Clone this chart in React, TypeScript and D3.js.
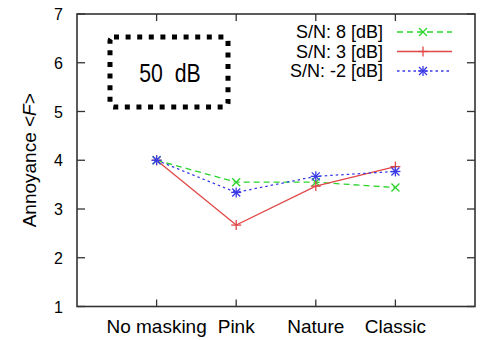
import React from 'react'
import * as d3 from 'd3'

const categories = ['No masking', 'Pink', 'Nature', 'Classic']
const yTicks = [1, 2, 3, 4, 5, 6, 7]

const snr8 = [4.0, 3.55, 3.55, 3.44]
const snr3 = [4.0, 2.67, 3.47, 3.87]
const snrM2 = [4.0, 3.34, 3.67, 3.77]

const seriesNames = ['S/N: 8 [dB]', 'S/N: 3 [dB]', 'S/N: -2 [dB]']

const W = 488
const H = 340
const left = 77
const right = 475
const top = 14
const bottom = 306.5

const FONT = 'Liberation Sans, Arial, Helvetica, sans-serif'

// marker shapes
const Marker = ({ kind, x, y, color }) => {
    const s = 4
    const cross = (
        <g key='c'>
            <line x1={x - s} y1={y - s} x2={x + s} y2={y + s} />
            <line x1={x - s} y1={y + s} x2={x + s} y2={y - s} />
        </g>
    )
    const plus = (
        <g key='p'>
            <line x1={x - s - 1} y1={y} x2={x + s + 1} y2={y} />
            <line x1={x} y1={y - s - 1} x2={x} y2={y + s + 1} />
        </g>
    )
    return (
        <g stroke={color} strokeWidth={1.3} fill='none'>
            {kind === 'x' && cross}
            {kind === '+' && plus}
            {kind === '*' && [cross, plus]}
        </g>
    )
}

const App = () => {
    const x = d3.scaleLinear().domain([0, 5]).range([left, right])
    const y = d3.scaleLinear().domain([1, 7]).range([bottom, top])

    const series = [
        { name: seriesNames[0], values: snr8, color: '#2ed42e', dash: '6 4', marker: 'x' },
        { name: seriesNames[1], values: snr3, color: '#e04848', dash: null, marker: '+' },
        { name: seriesNames[2], values: snrM2, color: '#3a3ae8', dash: '2.5 3', marker: '*' },
    ]

    const line = d3
        .line<number>()
        .x((d, i) => x(i + 1))
        .y(d => y(d))

    const frame = '#333'

    return (
        <svg width={W} height={H} style={{ position: 'absolute', left: 0, top: 0 }}>
            <rect width={W} height={H} fill='white' />

            {/* ticks, inward on all sides */}
            <g stroke={frame} strokeWidth={1.3}>
                {yTicks.map(t => (
                    <g key={t}>
                        <line x1={left} x2={left + 8} y1={y(t)} y2={y(t)} />
                        <line x1={right} x2={right - 8} y1={y(t)} y2={y(t)} />
                    </g>
                ))}
                {categories.map((c, i) => (
                    <g key={c}>
                        <line x1={x(i + 1)} x2={x(i + 1)} y1={bottom} y2={bottom - 7} />
                        <line x1={x(i + 1)} x2={x(i + 1)} y1={top} y2={top + 7} />
                    </g>
                ))}
            </g>

            {/* 50 dB box */}
            <rect
                x={110}
                y={37}
                width={118}
                height={70}
                rx={4}
                fill='none'
                stroke='black'
                strokeWidth={5}
                strokeDasharray='5 6.6'
            />
            <text
                transform='translate(170, 82) scale(0.85, 1)'
                textAnchor='middle'
                fontFamily={FONT}
                fontSize={25}
                fill='black'
                style={{ whiteSpace: 'pre' }}
            >
                {'50  dB'}
            </text>

            {/* series */}
            {series.map(s => (
                <g key={s.name}>
                    <path
                        d={line(s.values)}
                        fill='none'
                        stroke={s.color}
                        strokeWidth={1.3}
                        strokeDasharray={s.dash || undefined}
                    />
                    {s.values.map((v, i) => (
                        <Marker key={i} kind={s.marker} x={x(i + 1)} y={y(v)} color={s.color} />
                    ))}
                </g>
            ))}

            {/* legend */}
            {series.map((s, i) => {
                const ly = 32 + i * 19.5
                return (
                    <g key={s.name}>
                        <text
                            x={383}
                            y={ly + 6}
                            textAnchor='end'
                            fontFamily={FONT}
                            fontSize={18}
                            fill='black'
                        >
                            {s.name}
                        </text>
                        <line
                            x1={397}
                            x2={452}
                            y1={ly}
                            y2={ly}
                            stroke={s.color}
                            strokeWidth={1.3}
                            strokeDasharray={s.dash || undefined}
                        />
                        <Marker kind={s.marker} x={423} y={ly} color={s.color} />
                    </g>
                )
            })}

            {/* frame */}
            <rect
                x={left}
                y={top}
                width={right - left}
                height={bottom - top}
                fill='none'
                stroke={frame}
                strokeWidth={1.6}
            />

            {/* y tick labels */}
            {yTicks.map(t => (
                <text
                    key={t}
                    x={63}
                    y={y(t) + 6}
                    textAnchor='end'
                    fontFamily={FONT}
                    fontSize={16}
                    fill='black'
                >
                    {t}
                </text>
            ))}

            {/* category labels */}
            {categories.map((c, i) => (
                <text
                    key={c}
                    x={x(i + 1)}
                    y={333}
                    textAnchor='middle'
                    fontFamily={FONT}
                    fontSize={19}
                    fill='black'
                >
                    {c}
                </text>
            ))}

            {/* y axis label */}
            <text
                transform={`translate(36, ${(top + bottom) / 2}) rotate(-90)`}
                textAnchor='middle'
                fontFamily={FONT}
                fontSize={19}
                fill='black'
            >
                Annoyance &lt;<tspan fontStyle='italic'>F</tspan>&gt;
            </text>
        </svg>
    )
}

export default App
